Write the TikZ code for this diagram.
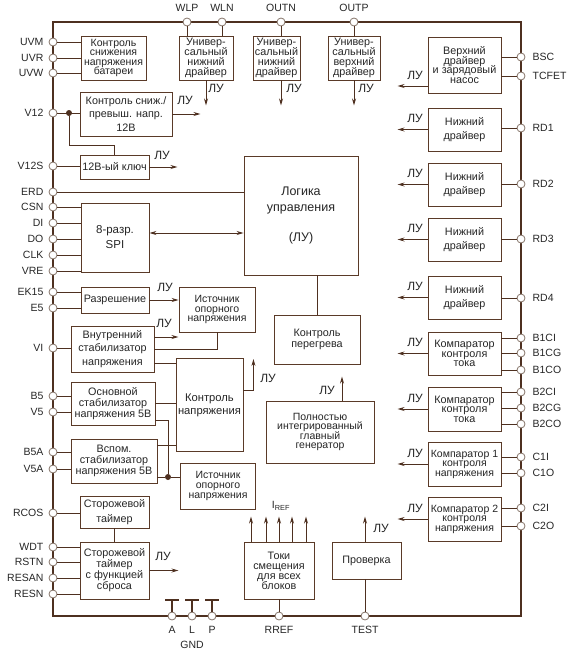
\documentclass[tikz,border=0pt]{standalone}
\usepackage{fontspec}
\setmainfont{Liberation Sans}
\usepackage{xcolor}
\usetikzlibrary{arrows.meta,positioning}
\definecolor{chipBrown}{HTML}{4E3020}
\definecolor{boxBrown}{HTML}{5A3A28}
\definecolor{padGray}{HTML}{857468}
\definecolor{inkDark}{HTML}{262626}
\setlength{\lineskiplimit}{-20pt}

\begin{document}
\begin{tikzpicture}[x=1pt,y=-1pt,
        every node/.style={font=\fontsize{10.5}{12}\selectfont,text=inkDark},
        blk/.style={rectangle,draw=boxBrown,fill=white,line width=0.9pt,inner sep=1pt,
                    align=center,font=\fontsize{10.8}{#1}\selectfont},
        blk/.default=11,
        sz/.style 2 args={minimum width=#1pt,minimum height=#2pt},
        pad/.style={circle,draw=padGray,fill=white,line width=0.8pt,inner sep=0pt,minimum size=8pt},
        plab/.style={font=\fontsize{10.5}{12}\selectfont,inner sep=1pt},
        padl/.style={pad,label={[plab,label distance=4pt]left:#1}},
        padr/.style={pad,label={[plab,label distance=6pt]right:#1}},
        padt/.style={pad,label={[plab,label distance=5pt]above:#1}},
        padb/.style={pad,label={[plab,label distance=5pt]below:#1}},
        dot/.style={circle,fill=chipBrown,inner sep=0pt,minimum size=6pt},
        lu/.style={font=\fontsize{12}{12}\selectfont,inner sep=0pt},
        frm/.style={draw=chipBrown,line width=2pt},
        wr/.style={draw=chipBrown,line width=0.8pt},
        gndbar/.style={draw=chipBrown,line width=1.8pt},
        arr/.style={-{Stealth[length=7pt,width=4pt]},draw=chipBrown,line width=0.8pt},
        arr2/.style={{Stealth[length=7pt,width=4pt]}-{Stealth[length=7pt,width=4pt]},draw=chipBrown,line width=0.8pt}
      ]
        \useasboundingbox (0,0) rectangle (572,656);
        \draw[frm] (53,22) rectangle (521,616);

        % pins
        \node[padl=UVM] (uvm) at (53,42) {};
        \node[padl=UVR] (uvr) at (53,58) {};
        \node[padl=UVW] (uvw) at (53,73) {};
        \node[padl=V12] (v12) at (53,113) {};
        \node[padl=V12S] (v12s) at (53,166) {};
        \node[padl=ERD] (erd) at (53,192) {};
        \node[padl=CSN] (csn) at (53,207) {};
        \node[padl=DI] (di) at (53,223) {};
        \node[padl=DO] (do) at (53,239) {};
        \node[padl=CLK] (clk) at (53,255) {};
        \node[padl=VRE] (vre) at (53,271) {};
        \node[padl=EK15] (ek15) at (53,292) {};
        \node[padl=E5] (e5) at (53,308) {};
        \node[padl=VI] (vi) at (53,348) {};
        \node[padl=B5] (b5) at (53,396) {};
        \node[padl=V5] (v5) at (53,412) {};
        \node[padl=B5A] (b5a) at (53,452) {};
        \node[padl=V5A] (v5a) at (53,469) {};
        \node[padl=RCOS] (rcos) at (53,513) {};
        \node[padl=WDT] (wdtp) at (53,547) {};
        \node[padl=RSTN] (rstn) at (53,562) {};
        \node[padl=RESAN] (resan) at (53,578) {};
        \node[padl=RESN] (resn) at (53,594) {};

        \node[padt=WLP] (wlp) at (187,22) {};
        \node[padt=WLN] (wln) at (222,22) {};
        \node[padt=OUTN] (outn) at (281,22) {};
        \node[padt=OUTP] (outp) at (354,22) {};

        \node[padr=BSC] (bsc) at (521,57) {};
        \node[padr=TCFET] (tcfet) at (521,76) {};
        \node[padr=RD1] (rd1) at (521,128) {};
        \node[padr=RD2] (rd2) at (521,184) {};
        \node[padr=RD3] (rd3) at (521,239) {};
        \node[padr=RD4] (rd4) at (521,298) {};
        \node[padr=B1CI] (b1ci) at (521,338) {};
        \node[padr=B1CG] (b1cg) at (521,353) {};
        \node[padr=B1CO] (b1co) at (521,370) {};
        \node[padr=B2CI] (b2ci) at (521,392) {};
        \node[padr=B2CG] (b2cg) at (521,408) {};
        \node[padr=B2CO] (b2co) at (521,424) {};
        \node[padr=C1I] (c1i) at (521,457) {};
        \node[padr=C1O] (c1o) at (521,473) {};
        \node[padr=C2I] (c2i) at (521,508) {};
        \node[padr=C2O] (c2o) at (521,526) {};

        \node[padb=A] (pa) at (172,616) {};
        \node[padb=L] (pl) at (192,616) {};
        \node[padb=P] (pp) at (212,616) {};
        \node[padb=RREF] (rref) at (279,616) {};
        \node[padb=TEST] (tst) at (365,616) {};
        \node (gnd) at (192,645) {GND};

        % blocks
        \node[blk=9.3,sz={65}{44},font=\fontsize{10.5}{9.3}\selectfont] (kbat) at (113.5,58) {Контроль\\снижения\\напряжения\\батареи};
        \node[blk=10,sz={54}{44}] (udrv1) at (206,58) {Универ-\\сальный\\нижний\\драйвер};
        \node[blk=10,sz={47}{44}] (udrv2) at (276.5,58) {Универ-\\сальный\\нижний\\драйвер};
        \node[blk=10,sz={52}{44}] (udrv3) at (354,58) {Универ-\\сальный\\верхний\\драйвер};
        \node[blk=9.7,sz={73}{56}] (vdrv) at (464.5,65) {Верхний\\драйвер\\и зарядовый\\насос};
        \node[blk=14,sz={73}{43}] (ndrv1) at (464.5,129.5) {Нижний\\драйвер};
        \node[blk=14,sz={73}{43}] (ndrv2) at (464.5,184.5) {Нижний\\драйвер};
        \node[blk=14,sz={73}{43}] (ndrv3) at (464.5,239.5) {Нижний\\драйвер};
        \node[blk=14,sz={73}{43}] (ndrv4) at (464.5,297.5) {Нижний\\драйвер};
        \node[blk=9.5,sz={73}{43}] (kmp1) at (464.5,353.5) {Компаратор\\контроля\\тока};
        \node[blk=9.5,sz={73}{44}] (kmp2) at (464.5,409) {Компаратор\\контроля\\тока};
        \node[blk=9.5,sz={73}{44},font=\fontsize{10.5}{9.5}\selectfont] (kmpv1) at (464.5,464) {Компаратор 1\\контроля\\напряжения};
        \node[blk=9.5,sz={73}{44},font=\fontsize{10.5}{9.5}\selectfont] (kmpv2) at (464.5,519) {Компаратор 2\\контроля\\напряжения};
        \node[blk=13.5,sz={92}{44}] (k12) at (126,114) {Контроль сниж./\\превыш. напр.\\12В};
        \node[blk,sz={69}{24}] (key12) at (114.5,167) {12В-ый ключ};
        \node[blk=16,sz={114}{119},font=\fontsize{12.5}{16}\selectfont] (logic) at (301,215.5) {Логика\\управления\\[14pt](ЛУ)};
        \node[blk=15,sz={68}{69},font=\fontsize{11.5}{15}\selectfont] (spi) at (115,237.5) {8-разр.\\SPI};
        \node[blk,sz={68}{26}] (enbl) at (115,300) {Разрешение};
        \node[blk=9.6,sz={76}{45},font=\fontsize{10.5}{9.6}\selectfont] (ref1) at (217,309.5) {Источник\\опорного\\напряжения};
        \node[blk=11,sz={86}{49}] (heat) at (317,339.5) {Контроль\\перегрева};
        \node[blk=13.5,sz={83}{46}] (stab) at (112.5,349) {Внутренний\\стабилизатор\\напряжения};
        \node[blk=13,sz={67}{93},font=\fontsize{11.2}{13}\selectfont] (vctl) at (209.5,405) {Контроль\\напряжения};
        \node[blk=11,sz={84}{43}] (stab5) at (113,403.5) {Основной\\стабилизатор\\напряжения 5В};
        \node[blk=11,sz={86}{44}] (stab5a) at (114,461) {Вспом.\\стабилизатор\\напряжения 5В};
        \node[blk=9.6,sz={75}{46},font=\fontsize{10.5}{9.6}\selectfont] (ref2) at (218,486) {Источник\\опорного\\напряжения};
        \node[blk=9.6,sz={108}{62},font=\fontsize{10.5}{9.6}\selectfont] (osc) at (320,432) {Полностью\\интегрированный\\главный\\генератор};
        \node[blk=15,sz={69}{32}] (wdt) at (114.5,512) {Сторожевой\\таймер};
        \node[blk=11,sz={69}{57}] (wdr) at (114.5,570.5) {Сторожевой\\таймер\\с функцией\\сброса};
        \node[blk=10,sz={70}{57}] (bias) at (279,570.5) {Токи\\смещения\\для всех\\блоков};
        \node[blk,sz={69}{37}] (test) at (366.5,560.5) {Проверка};

        % top drivers
        \draw[wr] (uvm) -- (uvm -| kbat.west);
        \draw[wr] (uvr) -- (uvr -| kbat.west);
        \draw[wr] (uvw) -- (uvw -| kbat.west);
        \draw[wr] (wlp) -- (wlp |- udrv1.north);
        \draw[wr] (wln) -- (wln |- udrv1.north);
        \draw[wr] (outn) -- (outn |- udrv2.north);
        \draw[wr] (outp) -- (outp |- udrv3.north);
        \draw[arr] (udrv1.south) -- ++(0,25);
        \draw[arr] (udrv2.south -| outn) -- ++(0,25);
        \draw[arr] (udrv3.south) -- ++(0,25);
        \node[lu] (lu1) at (216,88) {ЛУ};
        \node[lu] (lu2) at (294,88) {ЛУ};
        \node[lu] (lu3) at (366,88) {ЛУ};

        % right side drivers and comparators
        \draw[wr] (bsc) -- (bsc -| vdrv.east);
        \draw[wr] (tcfet) -- (tcfet -| vdrv.east);
        \draw[wr] (rd1) -- (rd1 -| ndrv1.east);
        \draw[wr] (rd2) -- (rd2 -| ndrv2.east);
        \draw[wr] (rd3) -- (rd3 -| ndrv3.east);
        \draw[wr] (rd4) -- (rd4 -| ndrv4.east);
        \draw[wr] (b1ci) -- (b1ci -| kmp1.east);
        \draw[wr] (b1cg) -- (b1cg -| kmp1.east);
        \draw[wr] (b1co) -- (b1co -| kmp1.east);
        \draw[wr] (b2ci) -- (b2ci -| kmp2.east);
        \draw[wr] (b2cg) -- (b2cg -| kmp2.east);
        \draw[wr] (b2co) -- (b2co -| kmp2.east);
        \draw[wr] (c1i) -- (c1i -| kmpv1.east);
        \draw[wr] (c1o) -- (c1o -| kmpv1.east);
        \draw[wr] (c2i) -- (c2i -| kmpv2.east);
        \draw[wr] (c2o) -- (c2o -| kmpv2.east);
        \draw[arr] ([yshift=-21pt]vdrv.west) -- ++(-30,0);
        \draw[arr] (ndrv1.west) -- ++(-30,0);
        \draw[arr] (ndrv2.west) -- ++(-30,0);
        \draw[arr] (ndrv3.west) -- ++(-30,0);
        \draw[arr] (ndrv4.west) -- ++(-30,0);
        \draw[arr] (kmp1.west) -- ++(-30,0);
        \draw[arr] (kmp2.west) -- ++(-30,0);
        \draw[arr] (kmpv1.west) -- ++(-30,0);
        \draw[arr] (kmpv2.west) -- ++(-30,0);
        \node[lu] (lu4) at (415,75) {ЛУ};
        \node[lu] (lu5) at (415,118.5) {ЛУ};
        \node[lu] (lu6) at (415,173.5) {ЛУ};
        \node[lu] (lu7) at (415,228.5) {ЛУ};
        \node[lu] (lu8) at (415,286.5) {ЛУ};
        \node[lu] (lu9) at (415,342.5) {ЛУ};
        \node[lu] (lu10) at (415,398) {ЛУ};
        \node[lu] (lu11) at (415,453) {ЛУ};
        \node[lu] (lu12) at (415,508) {ЛУ};

        % 12 V supervision
        \draw[wr] (v12) -- (v12 -| k12.west);
        \node[dot] (j1) at (69,113) {};
        \draw[wr] (j1) |- ([yshift=9pt]key12.north) -- (key12.north);
        \draw[arr] (k12.east) -- ++(28,0);
        \node[lu] (lu13) at (185,100) {ЛУ};
        \draw[wr] (v12s) -- (v12s -| key12.west);
        \draw[arr] (key12.east) -- ++(28,0);
        \node[lu] (lu14) at (162,155) {ЛУ};

        % logic and SPI
        \draw[wr] (erd) -- (erd -| logic.west);
        \draw[arr2] ([yshift=4.5pt]spi.east) -- ([yshift=4.5pt]spi.east -| logic.west);
        \draw[wr] (csn) -- (csn -| spi.west);
        \draw[wr] (di) -- (di -| spi.west);
        \draw[wr] (do) -- (do -| spi.west);
        \draw[wr] (clk) -- (clk -| spi.west);
        \draw[wr] (vre) -- (vre -| spi.west);
        \draw[wr] (heat.north) -- (heat.north |- logic.south);

        % supplies and references
        \draw[wr] (ek15) -- (ek15 -| enbl.west);
        \draw[wr] (e5) -- (e5 -| enbl.west);
        \draw[arr] (enbl.east) -- (enbl.east -| ref1.west);
        \node[lu] (lu15) at (165,287) {ЛУ};
        \draw[wr] (vi) -- (vi -| stab.west);
        \draw[arr] ([yshift=12pt]stab.east) -- ++(24,0);
        \node[lu] (lu16) at (164,323) {ЛУ};
        \draw[wr] (stab.east) -| (ref1.south);
        \draw[wr] ([yshift=-14pt]stab.east) -- ([yshift=-14pt]stab.east -| vctl.west);
        \draw[wr] (b5) -- (b5 -| stab5.west);
        \draw[wr] (v5) -- (v5 -| stab5.west);
        \draw[wr] (stab5.east) -- (stab5.east -| vctl.west);
        \node[dot] (j2) at (168,477) {};
        \draw[wr] ([yshift=-16.5pt]stab5.east) -| (j2);
        \draw[wr] (b5a) -- (b5a -| stab5a.west);
        \draw[wr] (v5a) -- (v5a -| stab5a.west);
        \draw[wr] ([yshift=16pt]stab5a.east) -- ([yshift=16pt]stab5a.east -| vctl.west);
        \draw[wr] ([yshift=-16pt]stab5a.east) -- (j2) -- (j2 -| ref2.west);
        \draw[arr] ([yshift=15pt]vctl.east) -| ++(10,-31);
        \node[lu] (lu17) at (268,378) {ЛУ};
        \draw[arr] ([xshift=22pt]osc.north) -- ++(0,-24);
        \node[lu] (lu18) at (327,390) {ЛУ};

        % watchdog
        \draw[wr] (rcos) -- (rcos -| wdt.west);
        \draw[wr] (wdt) -- (wdr);
        \draw[wr] (wdtp) -- (wdtp -| wdr.west);
        \draw[wr] (rstn) -- (rstn -| wdr.west);
        \draw[wr] (resan) -- (resan -| wdr.west);
        \draw[wr] (resn) -- (resn -| wdr.west);
        \draw[arr] (wdr.east) -- ++(29,0);
        \node[lu] (lu19) at (163,556) {ЛУ};

        % bias, test, ground
        \draw[wr] (rref) -- (bias);
        \draw[arr] ([xshift=-28pt]bias.north) -- ++(0,-25);
        \draw[arr] ([xshift=-13pt]bias.north) -- ++(0,-25);
        \draw[arr] (bias.north) -- ++(0,-25);
        \draw[arr] ([xshift=13pt]bias.north) -- ++(0,-25);
        \draw[arr] ([xshift=27pt]bias.north) -- ++(0,-25);
        \node (iref) at (281,506) {I\textsubscript{REF}};
        \draw[wr] (tst) -- (tst |- test.south);
        \draw[arr] (test.north -| tst) -- ++(0,-25);
        \node[lu] (lu20) at (381,528) {ЛУ};
        \draw[gndbar] (pa) |- ++(-7,-16) -- ++(14,0);
        \draw[gndbar] (pl) |- ++(-7,-16) -- ++(14,0);
        \draw[gndbar] (pp) |- ++(-7,-16) -- ++(14,0);
      \end{tikzpicture}
\end{document}
